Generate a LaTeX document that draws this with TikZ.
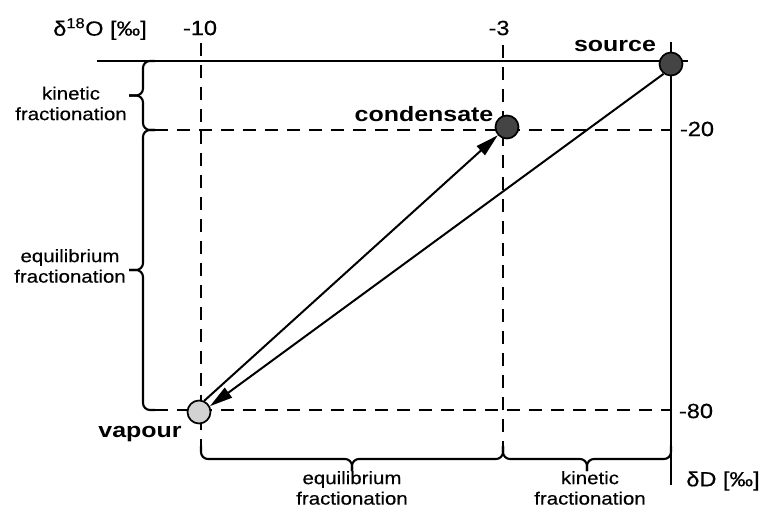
\documentclass[tikz,border=0pt]{standalone}
\usepackage{fontspec}
\setmainfont{Liberation Sans}[FakeStretch=1.2]
\newfontfamily\labfont{Liberation Sans}[FakeStretch=1.15,FakeBold=0.4]
\usetikzlibrary{arrows.meta}
\definecolor{darkdot}{HTML}{444444}
\definecolor{lightdot}{HTML}{D2D2D2}
\begin{document}
\begin{tikzpicture}[x=1pt,y=-1pt,
  solidline/.style={line width=2.5pt},
  dashline/.style={line width=2.3pt, dash pattern=on 13pt off 9pt},
  dot/.style={circle, draw=black, line width=1.7pt, minimum size=23pt, inner sep=0pt},
  arr/.style={line width=2pt, -{Triangle[length=23pt,width=12pt]}},
  bracestyle/.style={line width=2.1pt, rounded corners=7pt},
  lab/.style={font=\labfont\fontsize{17.8}{20.5}\selectfont, align=center, inner sep=0pt},
  axlab/.style={font=\labfont\fontsize{20.5}{24}\selectfont, inner sep=0pt},
  boldlab/.style={font=\fontsize{20.8}{24}\selectfont\bfseries, inner sep=0pt, anchor=base}]

\useasboundingbox (0,0) rectangle (764,513);

% axes
\coordinate (tl) at (97,61);
\coordinate (tr) at (688,61);
\coordinate (rt) at (671,42);
\coordinate (rb) at (671,485);
\draw[solidline] (tl) -- (tr);
\draw[solidline] (rt) -- (rb);

% dashed guide lines
\coordinate (v1t) at (201,43);
\coordinate (v1b) at (201,446);
\coordinate (v2t) at (503,45);
\coordinate (v2b) at (503,446);
\coordinate (h1l) at (155,130);
\coordinate (h1r) at (671,130);
\coordinate (h2l) at (155,410);
\coordinate (h2r) at (671,410);
\draw[dashline] (v1t) -- (v1b);
\draw[dashline] (v2t) -- (v2b);
\draw[dashline] (h1l) -- (h1r);
\draw[dashline] (h2l) -- (h2r);

% left braces
\draw[bracestyle] (155,61) -- (143,61) -- (143,95.5) -- (129,95.5);
\draw[bracestyle] (155,130) -- (143,130) -- (143,95.5) -- (129,95.5);
\draw[bracestyle] (155,130) -- (143,130) -- (143,270) -- (129,270);
\draw[bracestyle] (155,410) -- (143,410) -- (143,270) -- (129,270);

% bottom braces
\draw[bracestyle] (201,446) -- (201,459) -- (352,459) -- (352,471);
\draw[bracestyle] (503,446) -- (503,459) -- (352,459) -- (352,471);
\draw[bracestyle] (503,446) -- (503,459) -- (587,459) -- (587,471);
\draw[bracestyle] (671,446) -- (671,459) -- (587,459) -- (587,471);

% points
\node[dot, fill=darkdot] (source) at (671,64) {};
\node[dot, fill=darkdot] (condensate) at (507,127) {};
\node[dot, fill=lightdot] (vapour) at (199,412) {};

% arrows
\draw[arr] (source.233) -- (vapour.28);
\draw[arr] (vapour.65) -- (condensate.222);

% point labels
\node[boldlab] (lsource) at (615,52) {source};
\node[boldlab] (lcond) at (424,122) {condensate};
\node[boldlab] (lvap) at (140,437) {vapour};

% axis labels
\node[axlab] (lo18) at (100,29) {δ\textsuperscript{18}O [‰]};
\node[axlab] (lm10) at (200,28) {-10};
\node[axlab] (lm3) at (499,28) {-3};
\node[axlab] (lm20) at (697,129) {-20};
\node[axlab] (lm80) at (696,411) {-80};
\node[axlab] (ldD) at (723,481) {δD [‰]};

% fractionation labels
\node[lab] (lk1) at (71,103.5) {kinetic\\fractionation};
\node[lab] (le1) at (70,266) {equilibrium\\fractionation};
\node[lab] (le2) at (352,488) {equilibrium\\fractionation};
\node[lab] (lk2) at (590,488) {kinetic\\fractionation};
\end{tikzpicture}
\end{document}
